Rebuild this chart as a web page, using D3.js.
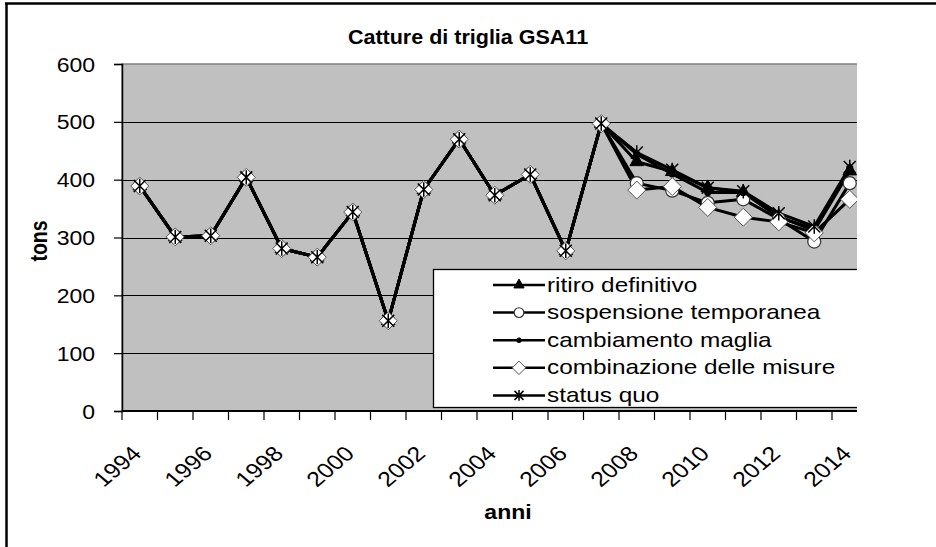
<!DOCTYPE html>
<html>
<head>
<meta charset="utf-8">
<script src="https://cdn.jsdelivr.net/npm/d3@7/dist/d3.min.js"></script>
<style>
  html, body { margin: 0; padding: 0; background: #fff; }
  svg { display: block; }
  text { font-family: "Liberation Sans", Arial, sans-serif; fill: #000; }
</style>
</head>
<body>
<svg id="chart" width="936" height="547"></svg>
<script>
// ---- data ----
const years = [1994, 1995, 1996, 1997, 1998, 1999, 2000, 2001, 2002, 2003, 2004,
               2005, 2006, 2007, 2008, 2009, 2010, 2011, 2012, 2013, 2014];
const tickLabels = [1994, 1996, 1998, 2000, 2002, 2004, 2006, 2008, 2010, 2012, 2014];
const yTicks = [0, 100, 200, 300, 400, 500, 600];
// observed catches 1994-2007 (shared by all scenarios)
const storico = [389, 301, 303, 404, 281, 266, 344, 156, 383, 470, 373, 409, 277, 497];
// scenario projections 2008-2014
const ritiro       = [431, 414, 386, 378, 336, 312, 415];
const sospensione  = [394, 381, 360, 366, 332, 293, 394];
const cambiamento  = [444, 410, 378, 378, 335, 315, 420];
const combinazione = [382, 388, 352, 335, 327, 308, 366];
const statusQuo    = [447, 417, 386, 380, 342, 319, 422];
const seriesNames = ["ritiro definitivo", "sospensione temporanea", "cambiamento maglia",
                     "combinazione delle misure", "status quo"];
const seriesMarkers = ["triangle", "circle", "dot", "diamond", "star"];

const series = [ritiro, sospensione, cambiamento, combinazione, statusQuo].map((p, i) => ({
  name: seriesNames[i],
  marker: seriesMarkers[i],
  values: storico.concat(p).map((v, j) => ({ year: years[j], value: v }))
}));

// ---- layout ----
const SX = 1.18; // horizontal text stretch of the original picture
const plot = { left: 122, top: 64, bottom: 411, right: 867.5, clip: 857 };
const svg = d3.select("#chart");

const x = d3.scaleBand().domain(years).range([plot.left, plot.right]).padding(0);
const y = d3.scaleLinear().domain([0, 600]).range([plot.bottom, plot.top]);
const cx = d => x(d) + x.bandwidth() / 2;

svg.append("defs").append("clipPath").attr("id", "clipR")
  .append("rect").attr("x", 0).attr("y", 0).attr("width", plot.clip).attr("height", 547);

// outer frame (cropped)
svg.append("line").attr("x1", 5).attr("x2", 936).attr("y1", 3.5).attr("y2", 3.5)
  .attr("stroke", "#000").attr("stroke-width", 2.5);
svg.append("line").attr("x1", 6.5).attr("x2", 6.5).attr("y1", 3).attr("y2", 547)
  .attr("stroke", "#000").attr("stroke-width", 2.5);

// title
svg.append("text")
  .attr("transform", `translate(468,44) scale(1.05,1)`)
  .attr("text-anchor", "middle")
  .style("font-size", "20.5px").style("font-weight", "bold")
  .text("Catture di triglia GSA11");

const g = svg.append("g").attr("clip-path", "url(#clipR)");

// plot background
g.append("rect")
  .attr("x", plot.left).attr("y", plot.top)
  .attr("width", plot.right - plot.left).attr("height", plot.bottom - plot.top)
  .attr("fill", "#c0c0c0").attr("stroke", "#808080").attr("stroke-width", 1.5);

// gridlines
g.append("g").selectAll("line").data(yTicks.filter(t => t > 0 && t < 600)).join("line")
  .attr("x1", plot.left).attr("x2", plot.right)
  .attr("y1", d => Math.round(y(d)) + 0.5).attr("y2", d => Math.round(y(d)) + 0.5)
  .attr("stroke", "#000").attr("stroke-width", 1.2);

// Y axis
const yAxis = svg.append("g").attr("transform", `translate(${plot.left},0)`)
  .call(d3.axisLeft(y).tickValues(yTicks).tickSize(8).tickPadding(0).tickFormat(d3.format("d")));
yAxis.select(".domain").attr("stroke", "#000").attr("stroke-width", 1.5);
yAxis.selectAll(".tick line").attr("stroke", "#000").attr("stroke-width", 1.2);
yAxis.selectAll(".tick text")
  .attr("x", -27 / SX).attr("dy", "0.36em")
  .attr("transform", `scale(${SX},1)`)
  .style("font-size", "19.5px").style("font-family", "'Liberation Sans', Arial, sans-serif");

// y title
svg.append("text")
  .attr("transform", `translate(47,241) scale(${SX},1) rotate(-90)`)
  .attr("text-anchor", "middle")
  .style("font-size", "19.5px").style("font-weight", "bold")
  .text("tons");

// X axis line + ticks between categories
const xg = svg.append("g").attr("clip-path", "url(#clipR)");
xg.append("line").attr("x1", plot.left).attr("x2", plot.right)
  .attr("y1", plot.bottom).attr("y2", plot.bottom)
  .attr("stroke", "#000").attr("stroke-width", 1.8);
xg.selectAll("line.tk").data(years).join("line").attr("class", "tk")
  .attr("x1", d => x(d)).attr("x2", d => x(d))
  .attr("y1", plot.bottom).attr("y2", plot.bottom + 9)
  .attr("stroke", "#000").attr("stroke-width", 1.2);

// x tick labels
svg.append("g").selectAll("text").data(tickLabels).join("text")
  .attr("transform", d => `translate(${cx(d) + 3},455) scale(${SX},1) rotate(-45)`)
  .attr("text-anchor", "end")
  .style("font-size", "21px")
  .text(d => d);

// x title
svg.append("text")
  .attr("transform", `translate(508,519) scale(${SX},1)`)
  .attr("text-anchor", "middle")
  .style("font-size", "19.5px").style("font-weight", "bold")
  .text("anni");

// ---- markers ----
function drawMarker(sel, type, scale) {
  const k = scale || 1;
  if (type === "triangle") {
    sel.append("path").attr("d", d3.symbol(d3.symbolTriangle, 80 * k * k)())
      .attr("fill", "#000").attr("stroke", "#000").attr("stroke-width", 1);
  } else if (type === "circle") {
    sel.append("circle").attr("r", 6.5 * k)
      .attr("fill", "#fff").attr("stroke", "#333").attr("stroke-width", 1.2);
  } else if (type === "dot") {
    sel.append("circle").attr("r", 3.6 * k).attr("fill", "#000");
  } else if (type === "diamond") {
    const h = 9 * k;
    sel.append("path").attr("d", `M0,${-h}L${h},0L0,${h}L${-h},0Z`)
      .attr("fill", "#fff").attr("stroke", "#555").attr("stroke-width", 1);
  } else if (type === "star") {
    const h = 6 * k;
    sel.append("path")
      .attr("d", `M${-h},${-h}L${h},${h}M${-h},${h}L${h},${-h}M0,${-h * 1.2}L0,${h * 1.2}`)
      .attr("stroke", "#000").attr("stroke-width", 1.5).attr("fill", "none");
  }
}

const line = d3.line().x(d => cx(d.year)).y(d => y(d.value));

series.forEach(s => {
  g.append("path").datum(s.values).attr("d", line)
    .attr("fill", "none").attr("stroke", "#000").attr("stroke-width", 3)
    .attr("stroke-linejoin", "round");
});
series.forEach(s => {
  g.append("g").selectAll("g").data(s.values).join("g")
    .attr("transform", d => `translate(${cx(d.year)},${y(d.value)})`)
    .each(function () { drawMarker(d3.select(this), s.marker, 1); });
});

// ---- legend ----
const lg = svg.append("g").attr("clip-path", "url(#clipR)");
lg.append("rect").attr("x", 433.5).attr("y", 269.5).attr("width", 460).attr("height", 138)
  .attr("fill", "#fff").attr("stroke", "#000").attr("stroke-width", 1.3);
series.forEach((s, i) => {
  const ly = 285 + i * 27.6;
  const row = lg.append("g");
  row.append("line").attr("x1", 493).attr("x2", 545).attr("y1", ly).attr("y2", ly)
    .attr("stroke", "#000").attr("stroke-width", 2.5);
  drawMarker(row.append("g").attr("transform", `translate(519,${ly})`), s.marker, 0.75);
  row.append("text")
    .attr("transform", `translate(547,${ly + 6.5}) scale(1.2,1)`)
    .style("font-size", "20.3px")
    .text(s.name);
});
</script>
</body>
</html>
